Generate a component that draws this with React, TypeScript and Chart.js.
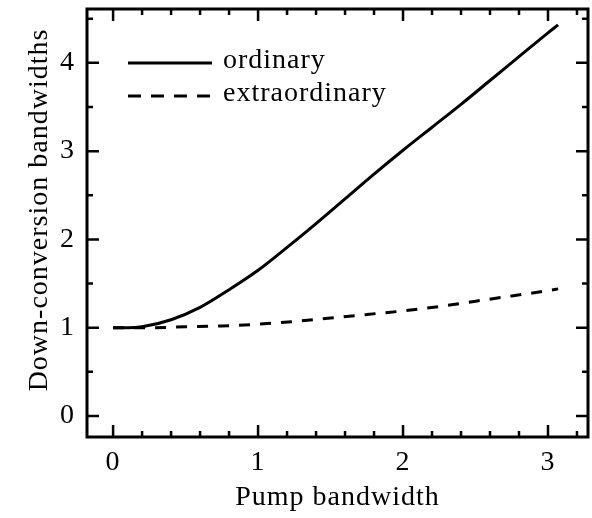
import React, { useEffect, useRef } from "react";
import { Chart, registerables } from "chart.js";

Chart.register(...registerables);

const ordinaryX = [0, 0.1, 0.2, 0.4, 0.6, 0.8, 1.0, 1.2, 1.4, 1.6, 1.8, 2.0, 2.2, 2.4, 2.6, 2.8, 3.0, 3.07];
const ordinaryY = [1.0, 1.0, 1.01, 1.09, 1.23, 1.43, 1.65, 1.91, 2.18, 2.46, 2.74, 3.01, 3.27, 3.53, 3.8, 4.07, 4.34, 4.43];

const extraX = [0, 0.25, 0.5, 0.75, 1.0, 1.25, 1.5, 1.75, 2.0, 2.25, 2.5, 2.75, 3.0, 3.07];
const extraY = [1.0, 1.0, 1.01, 1.02, 1.04, 1.07, 1.11, 1.15, 1.19, 1.24, 1.3, 1.36, 1.42, 1.44];

const seriesLabels = ["ordinary", "extraordinary"];

const xMajorTicks = [0, 1, 2, 3];
const yMajorTicks = [0, 1, 2, 3, 4];
const xMinorTicks = [0.2, 0.4, 0.6, 0.8, 1.2, 1.4, 1.6, 1.8, 2.2, 2.4, 2.6, 2.8, 3.2];
const yMinorTicks = [0.5, 1.5, 2.5, 3.5, 4.5];

const xTitle = "Pump bandwidth";
const yTitle = "Down-conversion bandwidths";

const FONT = "'Liberation Serif', 'Times New Roman', serif";
const FSIZE = 28;

const spacingPlugin = {
  id: "spacing",
  beforeDraw(chart: any) {
    (chart.ctx as any).letterSpacing = "1px";
  },
};

const frameAndTitlePlugin = {
  id: "frame",
  afterDraw(chart: any) {
    const ctx = chart.ctx;
    const { left, right, top, bottom } = chart.chartArea;
    const xs = chart.scales.x;
    const ys = chart.scales.y;
    ctx.save();
    ctx.strokeStyle = "#000";
    ctx.lineWidth = 2.5;
    ctx.beginPath();
    const drawX = (v: number, len: number) => {
      const px = xs.getPixelForValue(v);
      ctx.moveTo(px, bottom);
      ctx.lineTo(px, bottom - len);
      ctx.moveTo(px, top);
      ctx.lineTo(px, top + len);
    };
    const drawY = (v: number, len: number) => {
      const py = ys.getPixelForValue(v);
      ctx.moveTo(left, py);
      ctx.lineTo(left + len, py);
      ctx.moveTo(right, py);
      ctx.lineTo(right - len, py);
    };
    xMajorTicks.forEach((v) => drawX(v, 12));
    xMinorTicks.forEach((v) => drawX(v, 6));
    yMajorTicks.forEach((v) => drawY(v, 12));
    yMinorTicks.forEach((v) => drawY(v, 6));
    ctx.stroke();
    ctx.lineWidth = 3;
    ctx.strokeRect(left, top, right - left, bottom - top);

    // y axis title
    (ctx as any).letterSpacing = "1px";
    ctx.fillStyle = "#000";
    ctx.font = `${FSIZE}px ${FONT}`;
    ctx.textAlign = "center";
    ctx.textBaseline = "alphabetic";
    ctx.translate(47, 210);
    ctx.rotate(-Math.PI / 2);
    ctx.fillText(yTitle, 0, 0);
    ctx.restore();
  },
};

const legendPlugin = {
  id: "innerLegend",
  afterDatasetsDraw(chart: any) {
    const ctx = chart.ctx;
    const { left, top } = chart.chartArea;
    ctx.save();
    (ctx as any).letterSpacing = "1px";
    chart.data.datasets.forEach((ds: any, i: number) => {
      const ly = top + 54 + i * 33;
      ctx.strokeStyle = "#000";
      ctx.lineWidth = 3;
      ctx.setLineDash(i === 0 ? [] : [13, 10]);
      ctx.beginPath();
      ctx.moveTo(left + 41, ly);
      ctx.lineTo(left + 125, ly);
      ctx.stroke();
      ctx.setLineDash([]);
      ctx.fillStyle = "#000";
      ctx.font = `${FSIZE}px ${FONT}`;
      ctx.textBaseline = "alphabetic";
      ctx.textAlign = "left";
      ctx.fillText(ds.label, left + 136, ly + 5);
    });
    ctx.restore();
  },
};

const zeroPad = (scale: any) => {
  scale.paddingTop = 0;
  scale.paddingBottom = 0;
  scale.paddingLeft = 0;
  scale.paddingRight = 0;
};

export default function App() {
  const canvasRef = useRef<HTMLCanvasElement | null>(null);

  useEffect(() => {
    if (!canvasRef.current) return;
    const chart = new Chart(canvasRef.current, {
      type: "line",
      data: {
        datasets: [
          {
            label: seriesLabels[0],
            data: ordinaryX.map((x, i) => ({ x, y: ordinaryY[i] })),
            borderColor: "#000",
            borderWidth: 3,
            pointRadius: 0,
            cubicInterpolationMode: "monotone",
            fill: false,
          },
          {
            label: seriesLabels[1],
            data: extraX.map((x, i) => ({ x, y: extraY[i] })),
            borderColor: "#000",
            borderWidth: 3,
            borderDash: [11, 10],
            pointRadius: 0,
            cubicInterpolationMode: "monotone",
            fill: false,
          },
        ],
      },
      options: {
        animation: false,
        responsive: true,
        maintainAspectRatio: false,
        layout: { padding: { top: 9, right: 4, left: 0, bottom: 0 } },
        plugins: {
          legend: { display: false },
          tooltip: { enabled: false },
        },
        scales: {
          x: {
            type: "linear",
            min: -0.18,
            max: 3.276,
            afterBuildTicks: (scale: any) => {
              scale.ticks = xMajorTicks.map((v) => ({ value: v }));
            },
            afterFit: (scale: any) => {
              scale.height = 81;
              zeroPad(scale);
            },
            grid: { display: false, drawTicks: false },
            border: { display: false },
            ticks: {
              color: "#000",
              font: { family: FONT, size: FSIZE },
              padding: 9,
              maxRotation: 0,
              autoSkip: false,
            },
            title: {
              display: true,
              text: xTitle,
              color: "#000",
              font: { family: FONT, size: FSIZE },
              padding: { top: 0, bottom: 4 },
            },
          },
          y: {
            type: "linear",
            min: -0.238,
            max: 4.61,
            afterBuildTicks: (scale: any) => {
              scale.ticks = yMajorTicks.map((v) => ({ value: v }));
            },
            afterFit: (scale: any) => {
              scale.width = 87;
              zeroPad(scale);
            },
            grid: { display: false, drawTicks: false },
            border: { display: false },
            ticks: {
              color: "#000",
              font: { family: FONT, size: FSIZE },
              padding: 12,
              autoSkip: false,
            },
            title: { display: false, text: yTitle },
          },
        },
      },
      plugins: [spacingPlugin, frameAndTitlePlugin, legendPlugin],
    } as any);
    return () => chart.destroy();
  }, []);

  return (
    <div style={{ position: "absolute", left: 0, top: 0, width: 592, height: 518, background: "#fff" }}>
      <canvas ref={canvasRef} />
    </div>
  );
}
